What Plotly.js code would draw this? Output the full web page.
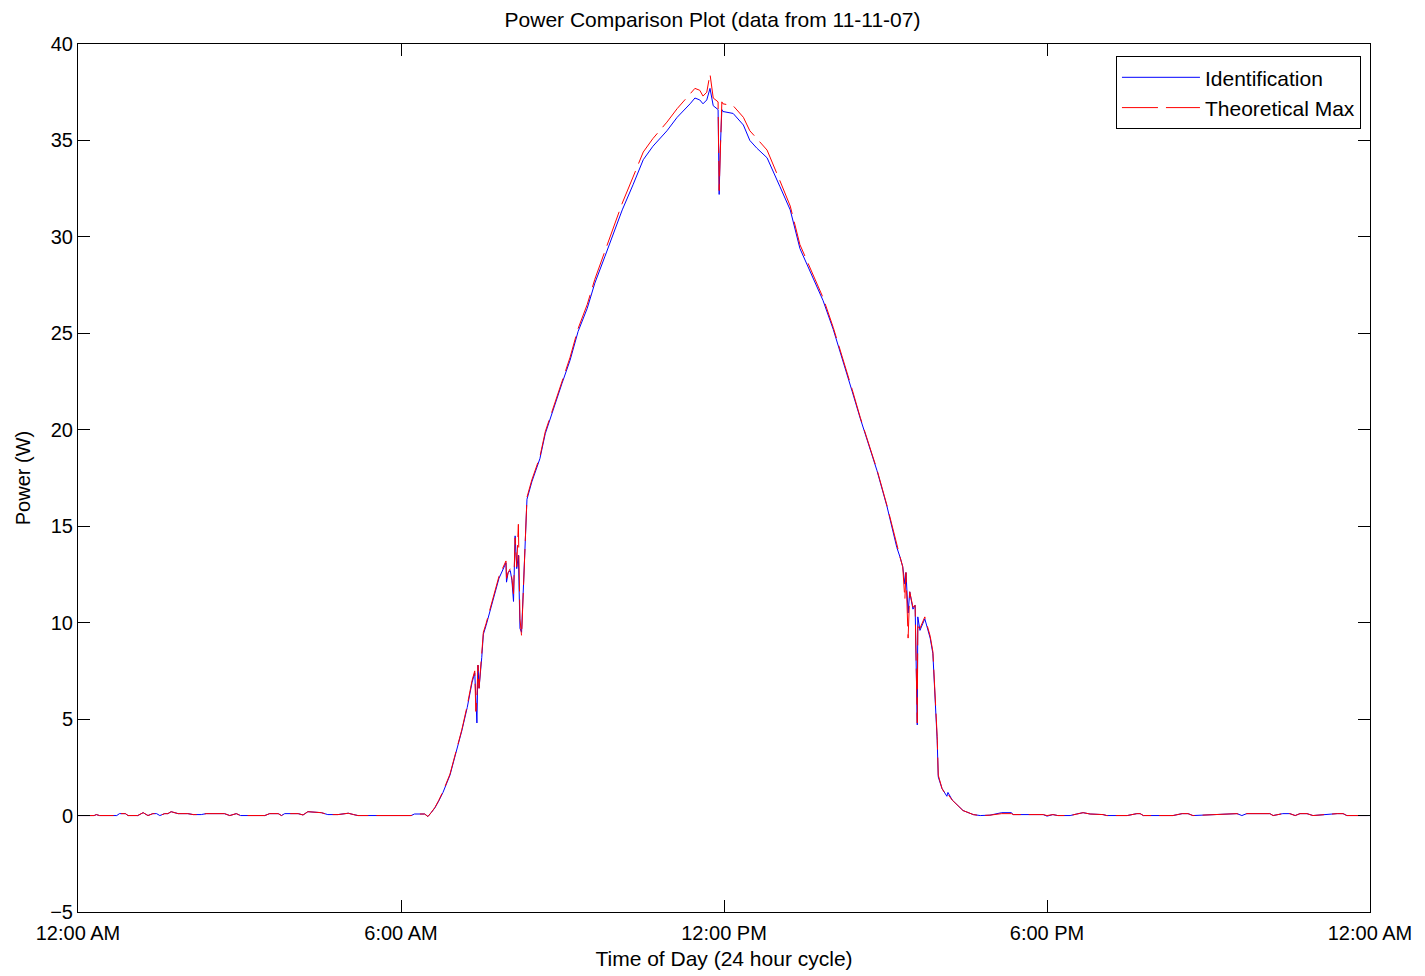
<!DOCTYPE html>
<html>
<head>
<meta charset="utf-8">
<script src="https://cdn.plot.ly/plotly-3.0.1.min.js"></script>
<style>
html,body{margin:0;padding:0;background:#fff;}
#chart{width:1425px;height:976px;}
</style>
</head>
<body>
<div id="chart"></div>
<script>
// Time of day in hours (0 = 12:00 AM, 24 = next 12:00 AM)
const hours = [
  0.00,0.30,0.34,0.40,0.72,0.77,0.88,0.93,1.11,1.21,1.30,1.39,1.46,1.52,1.61,1.67,1.73,1.86,2.04,2.14,
  2.29,2.38,2.72,2.82,2.94,3.02,3.47,3.56,3.72,3.78,3.84,4.09,4.18,4.27,4.52,4.64,4.83,5.02,5.12,5.20,
  6.19,6.25,6.44,6.50,6.56,6.63,6.70,6.78,6.91,7.04,7.13,7.23,7.32,7.37,7.39,7.41,7.43,7.45,7.50,7.53,7.58,7.65,
  7.71,7.82,7.95,7.96,7.99,8.03,8.06,8.09,8.12,8.15,8.18,8.21,8.24,8.30,8.34,8.43,8.58,8.68,8.82,8.99,
  9.14,9.29,9.46,9.60,9.79,9.98,10.11,10.31,10.50,10.68,10.94,11.13,11.24,11.37,11.46,11.55,11.61,11.68,11.74,11.80,
  11.89,11.91,11.93,11.96,11.98,12.17,12.36,12.48,12.61,12.80,13.04,13.23,13.41,13.63,13.84,14.03,14.21,14.38,14.53,14.68,
  14.84,15.03,15.21,15.27,15.32,15.36,15.38,15.42,15.45,15.51,15.55,15.59,15.60,15.64,15.73,15.83,15.88,15.96,15.98,16.05,
  16.14,16.16,16.24,16.44,16.63,16.76,16.94,17.16,17.34,17.37,17.93,18.00,18.11,18.20,18.43,18.55,18.67,18.80,19.04,19.11,
  19.49,19.67,19.73,19.79,20.34,20.51,20.62,20.71,21.34,21.53,21.62,21.71,22.14,22.20,22.38,22.51,22.61,22.70,22.83,22.94,
  23.39,23.50,23.57,24.00
];

// Identification power (W)
const identification = [
  0.00,0.00,0.05,0.00,0.00,0.10,0.10,0.00,0.00,0.15,0.00,0.10,0.10,0.00,0.10,0.10,0.20,0.10,0.10,0.05,
  0.05,0.10,0.10,0.00,0.10,0.00,0.00,0.10,0.10,0.00,0.10,0.10,0.03,0.20,0.15,0.05,0.05,0.12,0.05,0.00,
  0.00,0.08,0.08,-0.05,0.15,0.40,0.75,1.20,2.10,3.40,4.40,5.60,6.90,7.40,5.80,4.80,7.80,6.60,8.20,9.40,9.85,10.60,
  11.10,12.30,13.10,12.10,12.60,12.70,12.20,11.10,14.50,12.80,13.50,9.70,9.50,13.60,16.40,17.30,18.50,19.80,21.00,22.40,
  23.60,25.10,26.30,27.60,29.00,30.40,31.40,32.70,34.00,34.70,35.50,36.20,36.50,36.90,37.20,37.10,36.90,37.10,37.70,36.80,
  36.60,32.20,34.50,36.60,36.50,36.40,35.80,35.00,34.60,34.10,32.60,31.40,29.40,28.00,26.70,25.20,23.60,22.00,20.60,19.30,
  17.90,16.00,13.90,13.40,12.90,12.00,12.60,10.50,11.60,10.70,10.90,4.70,10.30,9.60,10.20,9.20,8.40,3.90,2.00,1.40,
  1.00,1.20,0.80,0.26,0.05,0.00,0.02,0.15,0.15,0.05,0.05,-0.03,0.05,0.00,0.00,0.08,0.15,0.08,0.05,0.00,
  0.00,0.10,0.10,0.00,0.00,0.10,0.10,0.00,0.10,0.10,0.00,0.10,0.10,0.00,0.10,0.10,0.00,0.10,0.10,0.00,
  0.10,0.10,0.00,0.00
];

// Theoretical maximum power (W)
const theoreticalMax = [
  0.00,0.00,0.05,0.00,0.00,0.10,0.10,0.00,0.00,0.15,0.00,0.10,0.10,0.00,0.10,0.10,0.20,0.10,0.10,0.05,
  0.05,0.10,0.10,0.00,0.10,0.00,0.00,0.10,0.10,0.00,0.10,0.10,0.03,0.20,0.15,0.05,0.05,0.12,0.05,0.00,
  0.00,0.08,0.08,-0.05,0.15,0.42,0.78,1.25,2.15,3.45,4.45,5.70,7.00,7.50,5.40,6.20,7.80,6.60,8.30,9.50,9.95,10.70,
  11.20,12.40,13.20,12.30,12.60,12.80,12.30,11.50,14.40,12.90,15.10,10.20,9.30,13.60,16.50,17.40,18.60,19.90,21.10,22.50,
  23.75,25.25,26.50,27.80,29.25,30.70,31.75,33.10,34.40,35.10,35.95,36.65,37.00,37.40,37.70,37.60,37.30,37.50,38.45,37.20,
  37.00,32.40,34.80,37.00,36.90,36.80,36.20,35.50,35.10,34.50,32.90,31.60,29.60,28.20,26.85,25.30,23.70,22.10,20.65,19.35,
  17.95,16.05,13.95,13.40,12.90,11.20,12.60,9.20,11.60,10.80,10.90,4.80,9.80,9.70,10.30,9.30,8.50,4.10,2.10,1.40,
  1.00,1.10,0.80,0.26,0.05,0.00,0.02,0.10,0.10,0.05,0.05,0.00,0.05,0.00,0.00,0.08,0.15,0.08,0.05,0.00,
  0.00,0.10,0.10,0.00,0.00,0.10,0.10,0.00,0.10,0.10,0.00,0.10,0.10,0.00,0.10,0.10,0.00,0.10,0.10,0.00,
  0.10,0.10,0.00,0.00
];

const xTickVals = [0, 6, 12, 18, 24];
const xTickText = ["12:00 AM", "6:00 AM", "12:00 PM", "6:00 PM", "12:00 AM"];
const yTickVals = [-5, 0, 5, 10, 15, 20, 25, 30, 35, 40];

const FONT = "Liberation Sans, Arial, Helvetica, sans-serif";
const FS = 20;

const traces = [
  {
    x: hours, y: identification, type: "scatter", mode: "lines",
    name: "Identification",
    line: {color: "#0000ff", width: 1}
  },
  {
    x: hours, y: theoreticalMax, type: "scatter", mode: "lines",
    name: "Theoretical Max",
    line: {color: "#ff0000", width: 1, dash: "36px,8px"}
  }
];

const axisCommon = {
  showgrid: false, zeroline: false,
  showline: true, linecolor: "#000", linewidth: 1, mirror: "ticks",
  ticks: "inside", ticklen: 12, tickwidth: 1, tickcolor: "#000",
  tickfont: {family: FONT, size: FS, color: "#000"}
};

const layout = {
  width: 1425, height: 976,
  paper_bgcolor: "#fff", plot_bgcolor: "#fff",
  margin: {l: 78, r: 55, t: 44, b: 64},
  font: {family: FONT, size: FS, color: "#000"},
  title: {
    text: "Power Comparison Plot (data from 11-11-07)",
    font: {family: FONT, size: FS + 1, color: "#000"},
    x: 0.5, xanchor: "center", y: 1 - 20/976, yanchor: "middle"
  },
  xaxis: Object.assign({}, axisCommon, {
    range: [0, 24], tickmode: "array", tickvals: xTickVals, ticktext: xTickText,
    ticklabelstandoff: 3,
    title: {text: "Time of Day (24 hour cycle)", font: {family: FONT, size: FS + 1, color: "#000"}, standoff: 8}
  }),
  yaxis: Object.assign({}, axisCommon, {
    range: [-5, 40], tickmode: "array", tickvals: yTickVals,
    title: {text: "Power (W)", font: {family: FONT, size: FS, color: "#000"}, standoff: 14}
  }),
  showlegend: true,
  legend: {
    x: 0.993, xanchor: "right", y: 0.986, yanchor: "top",
    bgcolor: "#fff", bordercolor: "#000", borderwidth: 1,
    font: {family: FONT, size: FS + 1, color: "#000"},
    itemwidth: 78,
    tracegroupgap: 0
  }
};

Plotly.newPlot("chart", traces, layout, {displayModeBar: false, staticPlot: true});
</script>
</body>
</html>
